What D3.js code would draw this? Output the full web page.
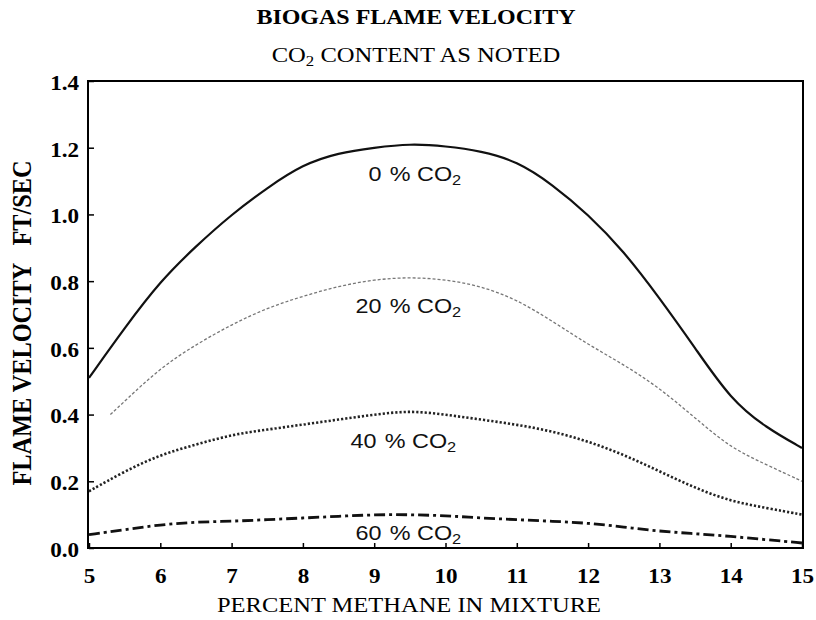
<!DOCTYPE html>
<html>
<head>
<meta charset="utf-8">
<script src="https://cdn.jsdelivr.net/npm/d3@7"></script>
<style>
  body { margin: 0; background: #fff; }
  svg { display: block; }
  .serif { font-family: "Liberation Serif", "Times New Roman", serif; }
  .sans { font-family: "Liberation Sans", Arial, sans-serif; }
</style>
</head>
<body>
<div id="chart"></div>
<script>
// methane percent on x
var methane = [5, 5.5, 6, 6.5, 7, 7.5, 8, 8.5, 9, 9.5, 10, 10.5, 11, 11.5, 12, 12.5, 13, 13.5, 14, 14.5, 15];
var methane20 = [5.3, 5.5, 6, 6.5, 7, 7.5, 8, 8.5, 9, 9.5, 10, 10.5, 11, 11.5, 12, 12.5, 13, 13.5, 14, 14.5, 15];

// flame velocity, ft/sec
var co2_0  = [0.51, 0.66, 0.80, 0.905, 1.00, 1.08, 1.15, 1.185, 1.20, 1.212, 1.205, 1.19, 1.16, 1.09, 1.00, 0.89, 0.75, 0.60, 0.445, 0.36, 0.30];
var co2_20 = [0.40, 0.44, 0.54, 0.61, 0.67, 0.72, 0.755, 0.785, 0.805, 0.812, 0.805, 0.785, 0.745, 0.68, 0.61, 0.55, 0.48, 0.39, 0.30, 0.25, 0.20];
var co2_40 = [0.17, 0.23, 0.28, 0.31, 0.34, 0.355, 0.37, 0.385, 0.40, 0.412, 0.40, 0.385, 0.37, 0.35, 0.32, 0.28, 0.23, 0.18, 0.14, 0.12, 0.10];
var co2_60 = [0.04, 0.055, 0.07, 0.078, 0.08, 0.085, 0.09, 0.095, 0.10, 0.10, 0.097, 0.09, 0.085, 0.08, 0.075, 0.063, 0.05, 0.043, 0.035, 0.025, 0.015];

var seriesNames = ["0", "20", "40", "60"];
// label anchor (right end) in data units
var labelX = [10.22, 10.22, 10.15, 10.22];
var labelY = [1.10, 0.705, 0.30, 0.024];

var xTicks = [5, 6, 7, 8, 9, 10, 11, 12, 13, 14, 15];
var yTicks = [0, 0.2, 0.4, 0.6, 0.8, 1.0, 1.2, 1.4];

var width = 816, height = 620;

var svg = d3.select("#chart")
    .append("svg")
    .attr("width", width)
    .attr("height", height);

var x = d3.scaleLinear().domain([5, 15]).range([89, 802]),
    y = d3.scaleLinear().domain([0, 1.4]).range([548, 81]);

// scanned original is a bit wider than tall
var stretch = 1.17;

// titles
svg.append("text")
    .attr("class", "serif")
    .attr("transform", "translate(416,24) scale(" + stretch + ",1)")
    .attr("text-anchor", "middle")
    .attr("font-weight", "bold")
    .attr("font-size", 20.5)
    .text("BIOGAS FLAME VELOCITY");

var sub = svg.append("text")
    .attr("class", "serif")
    .attr("transform", "translate(416,62) scale(1.2,1)")
    .attr("text-anchor", "middle")
    .attr("font-size", 20.5);
sub.append("tspan").text("CO");
sub.append("tspan").attr("font-size", 14).attr("dy", 4).text("2");
sub.append("tspan").attr("dy", -4).text(" CONTENT AS NOTED");

// axes, ticks pointing inward
var xAxis = d3.axisBottom(x).tickValues(xTicks).tickSize(-5).tickPadding(20).tickFormat(d3.format("d"));
var yAxis = d3.axisLeft(y).tickValues(yTicks).tickSize(-5).tickPadding(9).tickFormat(d3.format(".1f"));

var gx = svg.append("g")
    .attr("transform", "translate(0," + y(0) + ")")
    .call(xAxis);
var gy = svg.append("g")
    .attr("transform", "translate(" + x(5) + ",0)")
    .call(yAxis);

[gx, gy].forEach(function (g) {
    g.select(".domain").remove();
    g.selectAll(".tick line").attr("stroke", "#000").attr("stroke-width", 1.5);
    g.selectAll(".tick text")
        .attr("class", "serif")
        .attr("font-weight", "bold")
        .attr("font-size", 21)
        .attr("fill", "#000")
        .attr("transform", "scale(1.1,1)");
});
gy.selectAll(".tick text").attr("dy", "0.4em");

// frame
svg.append("rect")
    .attr("x", x(5) - 1)
    .attr("y", y(1.4))
    .attr("width", x(15) - x(5) + 2)
    .attr("height", y(0) - y(1.4))
    .attr("fill", "none")
    .attr("stroke", "#000")
    .attr("stroke-width", 2);

// axis titles
svg.append("text")
    .attr("class", "serif")
    .attr("transform", "translate(409,612) scale(1.14,1)")
    .attr("text-anchor", "middle")
    .attr("font-size", 21.5)
    .text("PERCENT METHANE IN MIXTURE");

svg.append("text")
    .attr("class", "serif")
    .attr("transform", "translate(31,323) rotate(-90) scale(1,1.2)")
    .attr("text-anchor", "middle")
    .attr("font-weight", "bold")
    .attr("font-size", 22)
    .attr("textLength", 325)
    .attr("lengthAdjust", "spacingAndGlyphs")
    .style("white-space", "pre")
    .text("FLAME VELOCITY   FT/SEC");

// curves
var series = [
    {xs: methane,   ys: co2_0,  stroke: "#111", width: 2.2, dash: null},
    {xs: methane20, ys: co2_20, stroke: "#777", width: 1.3, dash: "3,2"},
    {xs: methane,   ys: co2_40, stroke: "#222", width: 2.6, dash: "2.2,2"},
    {xs: methane,   ys: co2_60, stroke: "#111", width: 2.8, dash: "11,4,3,4"}
];

var line = d3.line()
    .x(function (d) { return x(d[0]); })
    .y(function (d) { return y(d[1]); })
    .curve(d3.curveBasis);

series.forEach(function (s) {
    svg.append("path")
        .datum(d3.zip(s.xs, s.ys))
        .attr("fill", "none")
        .attr("stroke", s.stroke)
        .attr("stroke-width", s.width)
        .attr("stroke-dasharray", s.dash)
        .attr("d", line);
});

// curve labels
seriesNames.forEach(function (name, i) {
    var t = svg.append("text")
        .attr("class", "sans")
        .attr("transform", "translate(" + x(labelX[i]) + "," + y(labelY[i]) + ") scale(" + stretch + ",1)")
        .attr("text-anchor", "end")
        .attr("font-size", 20)
        .attr("fill", "#111");
    t.append("tspan").text(name);
    t.append("tspan").attr("dx", 7).text("% CO");
    t.append("tspan").attr("font-size", 14).attr("dy", 4).text("2");
});
</script>
</body>
</html>
